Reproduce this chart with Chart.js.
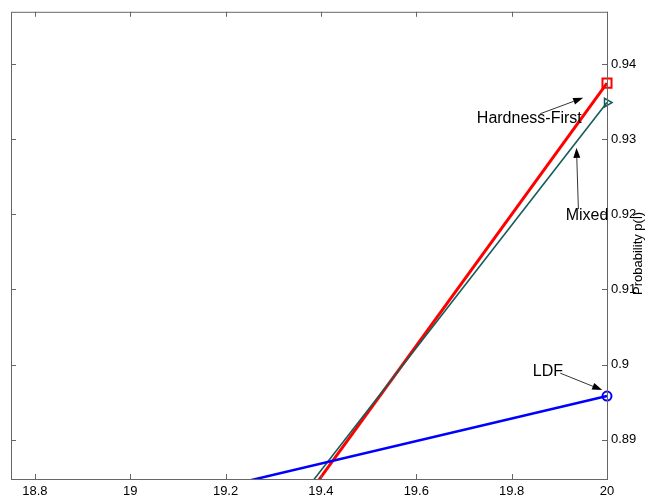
<!DOCTYPE html>
<html>
<head>
<meta charset="utf-8">
<script src="https://cdn.jsdelivr.net/npm/chart.js@4.4.1/dist/chart.umd.min.js"></script>
<style>
  html, body { margin: 0; padding: 0; background: #fff; }
  #wrap { width: 648px; height: 503px; position: relative; }
</style>
</head>
<body>
<div id="wrap"><canvas id="chart"></canvas></div>
<script>
// Data
const xValues = [19, 20];
const hardnessFirst = [0.85, 0.9375];
const mixed = [0.8532, 0.9349];
const ldf = [0.8808, 0.8958];

const xTicks = [18.8, 19, 19.2, 19.4, 19.6, 19.8, 20];
const yTicks = [0.89, 0.9, 0.91, 0.92, 0.93, 0.94];

// Text arrows, in data units: label centre, arrow tail, arrow head
const notes = [
  { text: 'Hardness-First', at: [19.837, 0.9328], from: [19.86, 0.93342], to: [19.95, 0.93554] },
  { text: 'Mixed', at: [19.958, 0.91978], from: [19.94, 0.9207], to: [19.936, 0.92888] },
  { text: 'LDF', at: [19.876, 0.899], from: [19.902, 0.89885], to: [19.99, 0.8966] },
];

const FONT = '"Liberation Sans", Arial, sans-serif';
const AXIS = '#666';

function pts(ys) {
  return xValues.map((x, i) => ({ x: x, y: ys[i] }));
}

/**
 * Box, inside tick marks, arrows and the axis title
 */
const framePlugin = {
  id: 'frame',
  afterDraw(chart) {
    const { ctx, chartArea: a, scales } = chart;
    const xs = scales.x;
    const ys = scales.y;
    const tl = 5;

    ctx.save();
    ctx.strokeStyle = AXIS;
    ctx.lineWidth = 1;
    ctx.strokeRect(a.left + 0.5, a.top + 0.5, a.right - a.left, a.bottom - a.top);

    ctx.beginPath();
    xTicks.forEach((v) => {
      const px = Math.round(xs.getPixelForValue(v)) + 0.5;
      ctx.moveTo(px, a.bottom);
      ctx.lineTo(px, a.bottom - tl);
      ctx.moveTo(px, a.top);
      ctx.lineTo(px, a.top + tl);
    });
    yTicks.forEach((v) => {
      const py = Math.round(ys.getPixelForValue(v)) + 0.5;
      ctx.moveTo(a.right, py);
      ctx.lineTo(a.right - tl, py);
      ctx.moveTo(a.left, py);
      ctx.lineTo(a.left + tl, py);
    });
    ctx.stroke();

    // annotations
    ctx.fillStyle = '#000';
    ctx.strokeStyle = '#000';
    ctx.font = '16px ' + FONT;
    ctx.textAlign = 'center';
    ctx.textBaseline = 'middle';
    notes.forEach((n) => {
      ctx.fillText(n.text, xs.getPixelForValue(n.at[0]), ys.getPixelForValue(n.at[1]));
      const x1 = xs.getPixelForValue(n.from[0]);
      const y1 = ys.getPixelForValue(n.from[1]);
      const x2 = xs.getPixelForValue(n.to[0]);
      const y2 = ys.getPixelForValue(n.to[1]);
      const ang = Math.atan2(y2 - y1, x2 - x1);
      const hl = 10;
      const hw = 3.5;
      const bx = x2 - hl * Math.cos(ang);
      const by = y2 - hl * Math.sin(ang);
      ctx.lineWidth = 0.8;
      ctx.beginPath();
      ctx.moveTo(x1, y1);
      ctx.lineTo(bx, by);
      ctx.stroke();
      ctx.beginPath();
      ctx.moveTo(x2, y2);
      ctx.lineTo(bx + hw * Math.sin(ang), by - hw * Math.cos(ang));
      ctx.lineTo(bx - hw * Math.sin(ang), by + hw * Math.cos(ang));
      ctx.closePath();
      ctx.fill();
    });

    // y axis title on the right
    ctx.font = '13px ' + FONT;
    ctx.translate(638, (a.top + a.bottom) / 2 + 8);
    ctx.rotate(-Math.PI / 2);
    ctx.fillText('Probability p(l)', 0, 0);
    ctx.restore();
  },
};

new Chart(document.getElementById('chart'), {
  type: 'line',
  data: {
    datasets: [
      {
        label: 'LDF',
        data: pts(ldf),
        borderColor: '#0000ff',
        borderWidth: 2.5,
        pointStyle: 'circle',
        pointRadius: 4.5,
        pointBorderWidth: 2,
        pointBackgroundColor: 'rgba(0,0,0,0)',
        pointBorderColor: '#0000ff',
        clip: { left: 0, top: 0, right: 12, bottom: 0 },
      },
      {
        label: 'Mixed',
        data: pts(mixed),
        borderColor: '#145c59',
        borderWidth: 1.6,
        pointStyle: 'triangle',
        pointRotation: 90,
        pointRadius: 5,
        pointBorderWidth: 1.5,
        pointBackgroundColor: 'rgba(0,0,0,0)',
        pointBorderColor: '#145c59',
        clip: { left: 0, top: 0, right: 12, bottom: 0 },
      },
      {
        label: 'Hardness-First',
        data: pts(hardnessFirst),
        borderColor: '#ff0000',
        borderWidth: 3,
        pointStyle: 'rect',
        pointRadius: 6.4,
        pointBorderWidth: 2,
        pointBackgroundColor: 'rgba(0,0,0,0)',
        pointBorderColor: '#ff0000',
        clip: { left: 0, top: 0, right: 12, bottom: 0 },
      },
    ],
  },
  options: {
    responsive: true,
    maintainAspectRatio: false,
    animation: false,
    layout: { padding: { left: 11, top: 10, right: 0, bottom: 0 } },
    plugins: {
      legend: { display: false },
      tooltip: { enabled: false },
    },
    scales: {
      x: {
        type: 'linear',
        min: 18.75,
        max: 20,
        grid: { display: false, drawTicks: false },
        border: { display: false },
        afterBuildTicks: (scale) => {
          scale.ticks = xTicks.map((v) => ({ value: v }));
        },
        afterFit: (scale) => {
          scale.height = 24;
        },
        ticks: {
          padding: 5,
          maxRotation: 0,
          color: '#000',
          font: { family: FONT, size: 13 },
          callback: (v) => String(Number(v.toFixed(2))),
        },
      },
      y: {
        type: 'linear',
        position: 'right',
        min: 0.88475,
        max: 0.947,
        grid: { display: false, drawTicks: false },
        border: { display: false },
        afterBuildTicks: (scale) => {
          scale.ticks = yTicks.map((v) => ({ value: v }));
        },
        afterFit: (scale) => {
          scale.width = 41;
        },
        ticks: {
          padding: 4,
          color: '#000',
          font: { family: FONT, size: 13 },
          callback: (v) => String(Number(v.toFixed(2))),
        },
      },
    },
  },
  plugins: [framePlugin],
});
</script>
</body>
</html>
